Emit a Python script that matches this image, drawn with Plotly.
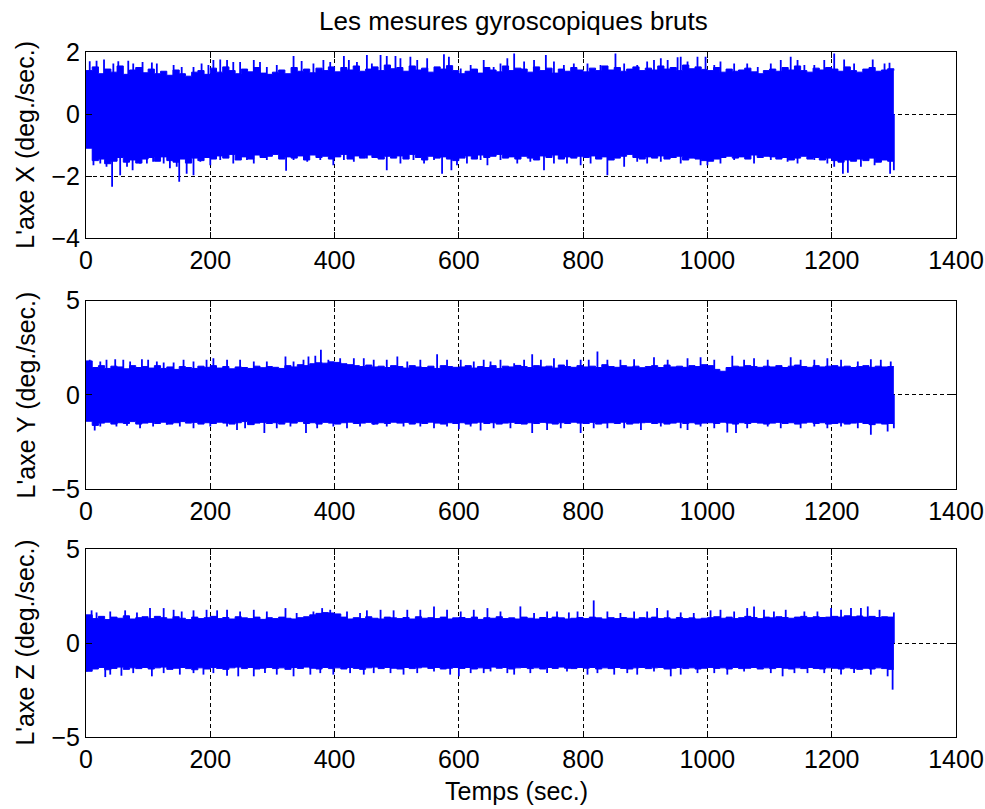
import plotly.graph_objects as go
from plotly.subplots import make_subplots

# ---------------- data ----------------
TITLE = "Les mesures gyroscopiques bruts"
Y_TITLES = ["L'axe X (deg./sec.)", "L'axe Y (deg./sec.)", "L'axe Z (deg./sec.)"]
X_TITLE = "Temps (sec.)"

# sample times of the envelope read-out (sec.), every 10 s from 0 to 1300
ENV_T = list(range(0, 1301, 10))

# dense-band upper / lower envelopes (deg./sec.), one value per 10 s
X_UP = [1.40, 1.52, 1.30, 1.45, 1.35, 1.55, 1.28, 1.42, 1.50, 1.33,
        1.45, 1.30, 1.38, 1.25, 1.42, 1.30, 1.22, 1.35, 1.40, 1.28,
        1.48, 1.35, 1.52, 1.40, 1.30, 1.45, 1.36, 1.50, 1.32, 1.28,
        1.35, 1.42, 1.30, 1.50, 1.38, 1.45, 1.33, 1.48, 1.40, 1.52,
        1.36, 1.50, 1.42, 1.55, 1.38, 1.45, 1.52, 1.40, 1.58, 1.46,
        1.50, 1.38, 1.55, 1.42, 1.48, 1.35, 1.52, 1.45, 1.56, 1.40,
        1.30, 1.38, 1.45, 1.32, 1.50, 1.42, 1.36, 1.55, 1.40, 1.48,
        1.45, 1.35, 1.52, 1.40, 1.48, 1.32, 1.45, 1.38, 1.50, 1.42,
        1.36, 1.48, 1.40, 1.55, 1.42, 1.50, 1.38, 1.45, 1.52, 1.40,
        1.48, 1.42, 1.55, 1.45, 1.50, 1.40, 1.58, 1.46, 1.52, 1.44,
        1.40, 1.50, 1.35, 1.45, 1.38, 1.42, 1.48, 1.36, 1.30, 1.40,
        1.45, 1.38, 1.50, 1.42, 1.55, 1.40, 1.35, 1.48, 1.42, 1.50,
        1.45, 1.38, 1.52, 1.40, 1.35, 1.45, 1.50, 1.38, 1.42, 1.46,
        1.40]
X_LO = [-1.10, -1.50, -1.45, -1.60, -1.52, -1.40, -1.55, -1.48, -1.58, -1.45,
        -1.40, -1.52, -1.38, -1.50, -1.55, -1.45, -1.58, -1.42, -1.50, -1.40,
        -1.45, -1.35, -1.42, -1.30, -1.48, -1.38, -1.45, -1.32, -1.40, -1.36,
        -1.30, -1.45, -1.38, -1.42, -1.35, -1.48, -1.32, -1.40, -1.36, -1.45,
        -1.38, -1.30, -1.45, -1.35, -1.42, -1.32, -1.40, -1.45, -1.36, -1.42,
        -1.35, -1.45, -1.30, -1.40, -1.48, -1.36, -1.42, -1.38, -1.45, -1.50,
        -1.42, -1.35, -1.45, -1.32, -1.40, -1.36, -1.30, -1.42, -1.38, -1.45,
        -1.36, -1.42, -1.48, -1.35, -1.40, -1.32, -1.45, -1.38, -1.42, -1.36,
        -1.40, -1.35, -1.45, -1.38, -1.48, -1.42, -1.36, -1.30, -1.40, -1.45,
        -1.38, -1.42, -1.35, -1.45, -1.40, -1.36, -1.48, -1.42, -1.45, -1.50,
        -1.52, -1.45, -1.40, -1.36, -1.42, -1.38, -1.45, -1.32, -1.40, -1.36,
        -1.38, -1.45, -1.40, -1.48, -1.42, -1.36, -1.45, -1.40, -1.48, -1.42,
        -1.50, -1.55, -1.48, -1.52, -1.45, -1.50, -1.42, -1.55, -1.48, -1.52,
        -1.50]
Y_UP = [1.80, 1.45, 1.55, 1.40, 1.52, 1.48, 1.38, 1.55, 1.45, 1.50,
        1.42, 1.55, 1.40, 1.48, 1.35, 1.50, 1.45, 1.40, 1.52, 1.46,
        1.55, 1.42, 1.50, 1.38, 1.48, 1.45, 1.40, 1.52, 1.44, 1.50,
        1.46, 1.40, 1.55, 1.48, 1.60, 1.55, 1.65, 1.70, 1.68, 1.75,
        1.72, 1.65, 1.60, 1.55, 1.50, 1.58, 1.48, 1.52, 1.45, 1.55,
        1.50, 1.42, 1.55, 1.48, 1.45, 1.52, 1.40, 1.55, 1.50, 1.46,
        1.48, 1.55, 1.42, 1.50, 1.45, 1.55, 1.40, 1.52, 1.48, 1.56,
        1.50, 1.45, 1.55, 1.48, 1.52, 1.42, 1.58, 1.50, 1.46, 1.55,
        1.48, 1.52, 1.45, 1.60, 1.50, 1.46, 1.55, 1.48, 1.52, 1.44,
        1.50, 1.55, 1.45, 1.58, 1.48, 1.52, 1.46, 1.55, 1.50, 1.60,
        1.55, 1.35, 1.25, 1.45, 1.52, 1.48, 1.55, 1.50, 1.46, 1.52,
        1.48, 1.55, 1.45, 1.52, 1.58, 1.50, 1.46, 1.55, 1.48, 1.52,
        1.55, 1.48, 1.52, 1.45, 1.50, 1.55, 1.46, 1.52, 1.48, 1.50,
        1.50]
Y_LO = [-1.40, -1.62, -1.50, -1.45, -1.55, -1.48, -1.52, -1.42, -1.55, -1.50,
        -1.46, -1.52, -1.45, -1.55, -1.48, -1.42, -1.50, -1.46, -1.55, -1.48,
        -1.52, -1.45, -1.50, -1.55, -1.48, -1.42, -1.58, -1.50, -1.46, -1.52,
        -1.48, -1.55, -1.45, -1.50, -1.42, -1.52, -1.48, -1.55, -1.46, -1.50,
        -1.55, -1.48, -1.45, -1.52, -1.50, -1.46, -1.55, -1.48, -1.52, -1.45,
        -1.50, -1.46, -1.55, -1.48, -1.52, -1.45, -1.50, -1.55, -1.48, -1.52,
        -1.48, -1.55, -1.50, -1.45, -1.52, -1.48, -1.55, -1.50, -1.46, -1.52,
        -1.55, -1.48, -1.52, -1.46, -1.50, -1.55, -1.48, -1.52, -1.45, -1.50,
        -1.52, -1.46, -1.55, -1.50, -1.48, -1.52, -1.45, -1.55, -1.50, -1.48,
        -1.46, -1.52, -1.48, -1.55, -1.50, -1.45, -1.52, -1.48, -1.55, -1.50,
        -1.48, -1.52, -1.45, -1.50, -1.55, -1.48, -1.52, -1.46, -1.50, -1.55,
        -1.50, -1.46, -1.52, -1.48, -1.55, -1.50, -1.45, -1.52, -1.48, -1.55,
        -1.52, -1.48, -1.55, -1.50, -1.46, -1.52, -1.58, -1.50, -1.55, -1.52,
        -1.55]
Z_UP = [1.50, 1.30, 1.42, 1.25, 1.38, 1.32, 1.45, 1.28, 1.35, 1.40,
        1.30, 1.42, 1.35, 1.28, 1.40, 1.32, 1.25, 1.38, 1.30, 1.35,
        1.42, 1.30, 1.36, 1.28, 1.40, 1.34, 1.30, 1.38, 1.26, 1.35,
        1.30, 1.38, 1.32, 1.28, 1.35, 1.40, 1.50, 1.58, 1.62, 1.60,
        1.55, 1.38, 1.28, 1.35, 1.30, 1.40, 1.32, 1.28, 1.38, 1.34,
        1.30, 1.36, 1.28, 1.40, 1.32, 1.35, 1.30, 1.38, 1.28, 1.34,
        1.36, 1.30, 1.38, 1.26, 1.35, 1.32, 1.40, 1.30, 1.34, 1.28,
        1.38, 1.32, 1.28, 1.36, 1.30, 1.38, 1.34, 1.28, 1.32, 1.36,
        1.30, 1.38, 1.34, 1.28, 1.35, 1.30, 1.36, 1.32, 1.28, 1.35,
        1.32, 1.38, 1.30, 1.34, 1.28, 1.36, 1.30, 1.34, 1.28, 1.32,
        1.35, 1.40, 1.32, 1.38, 1.30, 1.35, 1.42, 1.36, 1.30, 1.38,
        1.34, 1.40, 1.36, 1.32, 1.38, 1.42, 1.35, 1.40, 1.36, 1.38,
        1.42, 1.38, 1.45, 1.40, 1.44, 1.38, 1.42, 1.36, 1.40, 1.38,
        1.38]
Z_LO = [-1.50, -1.38, -1.30, -1.42, -1.35, -1.28, -1.40, -1.32, -1.36, -1.30,
        -1.38, -1.32, -1.28, -1.40, -1.34, -1.30, -1.36, -1.42, -1.32, -1.38,
        -1.30, -1.35, -1.40, -1.32, -1.28, -1.36, -1.30, -1.38, -1.34, -1.30,
        -1.36, -1.32, -1.40, -1.30, -1.35, -1.28, -1.34, -1.38, -1.30, -1.36,
        -1.32, -1.38, -1.30, -1.35, -1.40, -1.32, -1.28, -1.36, -1.30, -1.34,
        -1.38, -1.30, -1.36, -1.32, -1.28, -1.35, -1.30, -1.38, -1.34, -1.30,
        -1.35, -1.30, -1.38, -1.32, -1.36, -1.28, -1.34, -1.30, -1.38, -1.32,
        -1.30, -1.36, -1.32, -1.38, -1.30, -1.35, -1.28, -1.34, -1.36, -1.30,
        -1.34, -1.30, -1.38, -1.32, -1.36, -1.30, -1.35, -1.38, -1.32, -1.30,
        -1.36, -1.32, -1.30, -1.38, -1.34, -1.30, -1.36, -1.32, -1.38, -1.34,
        -1.30, -1.35, -1.32, -1.38, -1.30, -1.36, -1.34, -1.30, -1.38, -1.32,
        -1.36, -1.30, -1.34, -1.38, -1.32, -1.36, -1.30, -1.35, -1.38, -1.32,
        -1.34, -1.38, -1.32, -1.36, -1.40, -1.34, -1.38, -1.32, -1.36, -1.40,
        -1.40]

# isolated peaks sticking out of the band: (time sec., value deg./sec.)
X_PEAKS = [(6, 1.70), (17, 1.72), (29, 1.76), (44, 1.63), (52, 1.70), (68, 1.72), (76, 1.63), (91, 1.68),
           (106, 1.66), (114, 1.63), (141, 1.58), (154, 1.52), (173, 1.52), (186, 1.63), (197, 1.58),
           (205, 1.74), (216, 1.76), (227, 1.74), (237, 1.68), (248, 1.68), (270, 1.74), (280, 1.68),
           (291, 1.52), (307, 1.58), (334, 1.87), (347, 1.71), (366, 1.63), (382, 1.74), (393, 1.68),
           (415, 1.87), (423, 1.74), (436, 1.68), (452, 1.90), (460, 1.63), (474, 1.90), (484, 1.87),
           (498, 1.87), (506, 1.80), (522, 1.85), (533, 1.74), (549, 1.80), (576, 1.93), (584, 1.85),
           (603, 1.47), (619, 1.58), (640, 1.74), (656, 1.52), (667, 1.63), (678, 1.80), (689, 1.95),
           (705, 1.69), (721, 1.74), (740, 1.90), (753, 1.69), (769, 1.58), (785, 1.63), (807, 1.63),
           (828, 1.58), (852, 1.95), (866, 1.63), (887, 1.58), (903, 1.69), (914, 1.74), (925, 1.80),
           (936, 1.74), (952, 1.83), (957, 1.85), (968, 1.69), (984, 1.85), (997, 1.85), (1011, 1.58),
           (1021, 1.69), (1043, 1.63), (1064, 1.63), (1081, 1.52), (1102, 1.63), (1118, 1.74),
           (1134, 1.85), (1145, 1.74), (1156, 1.58), (1172, 1.58), (1188, 1.74), (1204, 1.95),
           (1220, 1.76), (1236, 1.63), (1266, 1.76), (1285, 1.63), (1293, 1.65),
           (12, -1.65), (23, -1.59), (33, -1.70), (42, -2.34), (55, -1.97), (66, -1.70), (75, -1.81),
           (87, -1.59), (98, -1.59), (108, -1.54), (125, -1.59), (135, -1.75), (146, -1.70), (150, -2.18),
           (162, -1.92), (173, -1.97), (184, -1.54), (200, -1.65), (216, -1.48), (237, -1.59), (259, -1.48),
           (270, -1.59), (291, -1.48), (322, -1.83), (334, -1.48), (356, -1.54), (377, -1.48), (398, -1.65),
           (415, -1.48), (431, -1.54), (452, -1.43), (484, -1.81), (506, -1.59), (527, -1.48), (544, -1.59),
           (560, -1.48), (573, -1.92), (588, -1.81), (597, -1.65), (613, -1.59), (635, -1.48), (646, -1.65),
           (667, -1.48), (694, -1.59), (715, -1.54), (737, -1.81), (753, -1.59), (774, -1.59), (796, -1.65),
           (812, -1.59), (839, -1.97), (866, -1.70), (887, -1.54), (903, -1.59), (925, -1.54), (957, -1.59),
           (989, -1.65), (1000, -1.65), (1021, -1.59), (1043, -1.48), (1075, -1.59), (1102, -1.48),
           (1129, -1.54), (1145, -1.59), (1172, -1.48), (1193, -1.59), (1204, -1.70), (1218, -1.92),
           (1226, -1.89), (1247, -1.70), (1269, -1.65), (1294, -1.92), (1300, -1.81)]
Y_PEAKS = [(6, 1.86), (23, 1.77), (33, 1.86), (47, 1.89), (60, 1.86), (71, 1.77), (90, 1.89), (100, 1.86),
           (114, 1.77), (125, 1.71), (141, 1.71), (157, 1.86), (173, 1.77), (194, 1.86), (205, 1.94),
           (227, 1.86), (248, 1.86), (270, 1.77), (291, 1.77), (321, 2.03), (334, 1.77), (350, 1.86),
           (358, 2.03), (369, 2.07), (378, 2.39), (390, 1.86), (409, 1.94), (431, 1.94), (447, 1.94),
           (463, 1.86), (484, 1.86), (501, 2.03), (517, 1.77), (538, 1.86), (565, 2.16), (581, 1.86),
           (603, 1.86), (624, 1.77), (640, 1.86), (651, 1.77), (667, 1.86), (689, 1.68), (705, 1.86),
           (718, 2.16), (732, 1.86), (753, 1.94), (774, 1.86), (796, 1.86), (809, 1.86), (823, 2.30),
           (839, 1.86), (860, 1.86), (882, 1.89), (914, 2.00), (936, 1.86), (968, 1.94), (989, 2.00),
           (1011, 1.86), (1040, 2.07), (1059, 1.86), (1075, 1.94), (1097, 1.86), (1134, 2.00), (1150, 1.86),
           (1172, 1.86), (1193, 1.94), (1215, 1.86), (1242, 1.77), (1263, 1.89), (1279, 1.86), (1295, 1.77),
           (14, -1.89), (23, -1.68), (49, -1.68), (66, -1.64), (87, -1.77), (108, -1.68), (130, -1.59),
           (151, -1.68), (173, -1.77), (200, -1.68), (227, -1.68), (243, -1.86), (256, -1.77), (270, -1.59),
           (287, -2.03), (307, -1.77), (329, -1.68), (354, -2.03), (372, -1.77), (398, -1.68), (420, -1.77),
           (441, -1.68), (463, -1.59), (484, -1.68), (511, -1.68), (538, -1.68), (560, -1.77), (581, -1.68),
           (600, -1.82), (619, -1.68), (635, -1.89), (656, -1.77), (683, -1.77), (718, -2.03), (742, -1.86),
           (764, -1.77), (796, -2.03), (817, -1.77), (839, -1.77), (866, -1.77), (893, -1.86), (925, -1.68),
           (957, -1.77), (968, -1.86), (989, -1.68), (1011, -1.77), (1032, -2.00), (1046, -2.03),
           (1064, -1.77), (1097, -1.68), (1118, -1.77), (1150, -1.77), (1172, -1.68), (1193, -1.77),
           (1215, -1.68), (1242, -1.77), (1263, -2.12), (1290, -1.94), (1300, -1.77)]
Z_PEAKS = [(9, 1.74), (17, 1.63), (39, 1.68), (63, 1.74), (82, 1.63), (103, 1.86), (125, 1.86), (141, 1.77),
           (154, 1.68), (173, 1.74), (194, 1.77), (211, 1.74), (227, 1.77), (248, 1.68), (270, 1.77),
           (291, 1.68), (321, 1.86), (339, 1.60), (366, 1.68), (380, 1.86), (393, 1.77), (420, 1.68),
           (441, 1.60), (452, 1.74), (474, 1.77), (495, 1.74), (517, 1.77), (538, 1.77), (560, 1.95),
           (581, 1.77), (603, 1.68), (624, 1.77), (646, 1.86), (667, 1.68), (699, 1.95), (721, 1.60),
           (742, 1.68), (758, 1.68), (777, 1.63), (791, 1.68), (817, 2.27), (839, 1.68), (860, 1.60),
           (882, 1.68), (903, 1.68), (919, 1.86), (936, 1.74), (957, 1.63), (978, 1.60), (1005, 1.74),
           (1021, 1.77), (1043, 1.68), (1064, 1.86), (1075, 1.95), (1091, 1.77), (1107, 1.68), (1126, 1.77),
           (1156, 1.68), (1177, 1.68), (1199, 1.86), (1215, 1.77), (1231, 1.86), (1247, 1.86), (1258, 1.95),
           (1277, 1.77), (1300, 1.63),
           (1, -1.51), (31, -1.81), (39, -1.68), (57, -1.74), (76, -1.60), (106, -1.77), (125, -1.60),
           (151, -1.68), (173, -1.60), (189, -1.68), (205, -1.60), (227, -1.74), (245, -1.77), (270, -1.77),
           (288, -1.60), (307, -1.68), (334, -1.77), (361, -1.68), (377, -1.60), (398, -1.68), (425, -1.60),
           (447, -1.68), (463, -1.60), (490, -1.60), (511, -1.68), (533, -1.60), (560, -1.51), (586, -1.68),
           (600, -1.77), (619, -1.60), (640, -1.60), (651, -1.51), (678, -1.60), (689, -1.68), (715, -1.60),
           (742, -1.60), (774, -1.51), (807, -1.68), (823, -1.60), (850, -1.68), (871, -1.60), (887, -1.68),
           (914, -1.51), (941, -1.77), (957, -1.68), (984, -1.60), (1011, -1.60), (1032, -1.68), (1059, -1.51),
           (1102, -1.60), (1121, -1.77), (1140, -1.60), (1161, -1.60), (1188, -1.60), (1215, -1.68),
           (1236, -1.60), (1263, -1.68), (1290, -1.77), (1298, -2.48)]

X_TICKS = [0, 200, 400, 600, 800, 1000, 1200, 1400]
Y_TICKS = [[-4, -2, 0, 2], [-5, 0, 5], [-5, 0, 5]]
Y_RANGES = [[-4, 2], [-5, 5], [-5, 5]]

# ---------------- figure ----------------
BLUE = "#0000FF"
FONT = "Liberation Sans, Arial, sans-serif"
FS = 25
TXT = "#000000"

fig = make_subplots(rows=3, cols=1, shared_xaxes=False, vertical_spacing=0.09)

series = [(X_UP, X_LO, X_PEAKS), (Y_UP, Y_LO, Y_PEAKS), (Z_UP, Z_LO, Z_PEAKS)]
for i, (up, lo, peaks) in enumerate(series, start=1):
    n = min(len(ENV_T), len(up), len(lo))
    fig.add_trace(go.Scatter(x=ENV_T[:n], y=lo[:n], mode="lines",
                             line=dict(color=BLUE, width=1, shape="hv"),
                             showlegend=False, hoverinfo="skip"), row=i, col=1)
    fig.add_trace(go.Scatter(x=ENV_T[:n], y=up[:n], mode="lines",
                             line=dict(color=BLUE, width=1, shape="hv"),
                             fill="tonexty", fillcolor=BLUE, showlegend=False, hoverinfo="skip"),
                  row=i, col=1)
    px, py = [], []
    for t, v in peaks:
        px += [t, t, None]
        py += [0, v, None]
    fig.add_trace(go.Scatter(x=px, y=py, mode="lines", line=dict(color=BLUE, width=1.8),
                             showlegend=False, hoverinfo="skip"), row=i, col=1)

domains = [[0.7282, 1.0], [0.3619, 0.6371], [0.0, 0.2743]]
axis_common = dict(showline=True, linecolor="black", linewidth=1, mirror="ticks",
                   ticks="inside", ticklen=6, tickcolor="black", tickwidth=1,
                   showgrid=True, gridcolor="black", gridwidth=1, griddash="4px,3px",
                   zeroline=False, ticklabeloverflow="allow", automargin=False,
                   tickfont=dict(family=FONT, size=FS, color=TXT))
for i in range(3):
    fig.update_xaxes(range=[0, 1400], tickvals=X_TICKS, **axis_common, row=i + 1, col=1)
    fig.update_yaxes(range=Y_RANGES[i], tickvals=Y_TICKS[i], domain=domains[i], **axis_common,
                     row=i + 1, col=1)

annotations = []
for i in range(3):
    annotations.append(dict(text=Y_TITLES[i], xref="paper", yref="paper", x=-0.0695,
                            y=sum(domains[i]) / 2, xanchor="center", yanchor="middle",
                            textangle=-90, showarrow=False,
                            font=dict(family=FONT, size=FS, color=TXT)))
annotations.append(dict(text=X_TITLE, xref="paper", yref="paper", x=0.4954, y=-0.0784,
                        xanchor="center", yanchor="middle", showarrow=False,
                        font=dict(family=FONT, size=FS, color=TXT)))
annotations.append(dict(text=TITLE, xref="paper", yref="paper", x=0.4914, y=1.0,
                        xanchor="center", yanchor="bottom", yshift=14, showarrow=False,
                        font=dict(family=FONT, size=26, color=TXT)))

fig.update_layout(width=985, height=809, autosize=False,
                  margin=dict(l=86, r=29, t=52, b=72, autoexpand=False),
                  paper_bgcolor="white", plot_bgcolor="white",
                  annotations=annotations, showlegend=False)

fig.write_html("out.html",
               config={"responsive": False, "displayModeBar": False},
               post_script="document.body.style.margin='0';document.body.style.overflow='hidden';")
